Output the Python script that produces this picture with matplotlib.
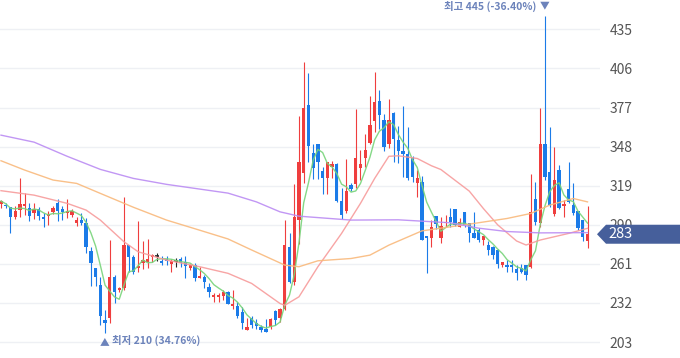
import matplotlib
matplotlib.use("Agg")
import matplotlib.pyplot as plt
from matplotlib.patches import Polygon
import numpy as np
import pandas as pd

plt.rcParams['font.family'] = ['Noto Sans CJK KR', 'DejaVu Sans']

# daily candles (oldest -> newest)
opens = [305.4, 304.8, 303.3, 295.9, 300.9, 303.8, 302.6, 298.4, 301.4, 295.9,
         296.4, 299.2, 305.8, 301.4, 298.9, 297.4, 291.0, 293.5, 291.5, 270.7,
         257.6, 245.2, 219.3, 220.7, 251.1, 241.5, 242.8, 274.9, 266.3, 257.6,
         261.8, 262.6, 265.8, 266.5, 263.3, 265.0, 260.8, 263.3, 265.0, 262.6,
         257.6, 260.1, 250.6, 251.4, 243.5, 236.6, 236.6, 236.9, 239.8, 229.6,
         229.6, 225.5, 212.3, 220.5, 217.3, 214.3, 212.4, 214.3, 225.9, 220.5,
         227.9, 273.6, 247.7, 293.5, 328.3, 378.7, 343.6, 349.6, 329.8, 324.9,
         333.0, 334.8, 307.6, 300.1, 319.5, 320.0, 332.3, 339.7, 351.0, 367.0,
         382.0, 367.7, 349.9, 373.2, 353.2, 344.8, 342.4, 339.2, 320.7, 321.9,
         281.6, 279.9, 296.4, 280.0, 291.0, 295.9, 301.4, 288.6, 299.6, 291.0,
         283.6, 286.1, 278.7, 274.9, 273.6, 271.2, 260.1, 260.1, 260.5, 256.9,
         257.6, 260.1, 258.8, 308.8, 291.0, 350.3, 329.3, 297.7, 330.6, 304.1,
         316.2, 304.6, 300.4, 293.5, 278.1]
highs = [308.4, 305.8, 303.5, 303.8, 325.0, 313.7, 305.8, 305.8, 303.5, 298.4,
         300.1, 303.8, 309.0, 304.3, 309.0, 301.4, 295.9, 298.9, 294.7, 273.6,
         258.0, 251.4, 226.7, 278.7, 252.8, 243.5, 310.3, 275.0, 267.3, 292.9,
         278.2, 279.2, 268.7, 268.9, 266.7, 266.7, 265.0, 265.6, 265.9, 266.7,
         261.0, 261.5, 258.4, 252.8, 246.5, 239.5, 239.5, 242.0, 240.9, 242.0,
         232.8, 228.8, 220.5, 222.0, 219.8, 215.5, 219.8, 220.5, 226.7, 228.0,
         293.5, 283.6, 320.5, 370.6, 411.0, 402.3, 350.3, 350.3, 333.0, 336.5,
         337.1, 335.5, 317.0, 338.7, 321.0, 375.6, 345.4, 357.7, 385.7, 403.0,
         390.0, 372.0, 383.2, 373.5, 363.3, 378.0, 362.3, 341.0, 330.6, 326.0,
         282.0, 293.5, 296.5, 295.9, 297.2, 302.2, 302.0, 294.7, 299.6, 291.0,
         299.6, 287.4, 281.6, 277.8, 274.0, 272.0, 262.5, 263.8, 263.8, 260.1,
         261.0, 260.1, 327.6, 321.9, 376.5, 445.0, 362.7, 347.4, 334.3, 308.4,
         336.7, 320.7, 300.4, 293.5, 304.1]
lows = [302.2, 302.2, 284.0, 294.0, 295.5, 297.2, 293.0, 294.0, 293.5, 288.0,
        289.7, 297.9, 293.0, 293.5, 295.2, 295.5, 289.0, 289.5, 269.2, 244.5,
        244.5, 215.5, 210.0, 216.8, 232.3, 239.9, 241.5, 255.1, 253.5, 255.1,
        257.0, 257.6, 262.6, 263.0, 260.3, 260.0, 255.1, 259.0, 259.0, 250.2,
        256.8, 248.5, 250.2, 242.8, 236.6, 232.8, 232.8, 234.1, 230.9, 227.9,
        220.5, 213.0, 211.9, 213.6, 213.0, 210.5, 210.5, 213.0, 216.0, 218.0,
        226.7, 246.5, 245.2, 276.0, 320.7, 336.7, 324.0, 324.0, 312.5, 312.5,
        324.9, 307.0, 294.2, 298.4, 315.3, 317.5, 323.2, 333.0, 350.3, 359.0,
        361.0, 345.0, 346.9, 336.3, 335.6, 325.5, 323.2, 321.8, 310.3, 278.7,
        253.9, 273.6, 287.0, 276.6, 288.0, 288.6, 289.0, 288.6, 288.0, 277.4,
        279.9, 277.0, 275.0, 267.5, 265.0, 258.0, 258.8, 255.1, 255.1, 249.0,
        254.0, 249.0, 257.6, 289.7, 288.6, 323.2, 303.3, 296.4, 301.4, 295.9,
        306.3, 297.2, 286.5, 278.0, 272.5]
closes = [307.6, 303.6, 295.9, 300.1, 305.1, 305.3, 296.7, 301.4, 296.4, 294.4,
          297.7, 302.2, 300.1, 299.2, 300.1, 300.4, 293.5, 291.0, 273.6, 261.8,
          251.4, 222.2, 217.3, 251.1, 240.5, 242.8, 274.9, 266.3, 255.1, 259.3,
          263.8, 264.8, 267.5, 266.5, 261.8, 263.1, 263.3, 263.3, 261.8, 259.3,
          260.1, 250.2, 251.9, 247.7, 240.3, 237.8, 237.8, 240.2, 231.6, 231.1,
          222.2, 216.8, 214.3, 215.5, 214.9, 211.9, 210.5, 219.8, 219.3, 227.9,
          274.9, 247.7, 295.9, 336.7, 376.5, 348.4, 331.8, 336.3, 324.9, 336.3,
          334.8, 307.6, 297.2, 315.0, 316.5, 339.2, 335.3, 345.4, 364.3, 381.0,
          371.1, 347.9, 367.7, 353.9, 344.8, 342.4, 325.0, 325.5, 324.9, 278.7,
          279.9, 288.0, 290.5, 289.0, 292.2, 292.2, 289.7, 292.2, 289.7, 283.6,
          279.9, 278.7, 281.6, 271.3, 267.6, 260.8, 262.1, 258.8, 258.5, 254.0,
          255.1, 252.7, 299.6, 292.2, 350.3, 325.5, 304.6, 323.2, 302.2, 305.3,
          306.9, 298.4, 287.3, 280.6, 283.0]

# longer moving averages (candle index, price)
ma20_idx = [0, 7, 14, 18, 21, 26, 29, 35, 42, 48, 53, 59, 60, 63, 67, 72, 76,
            79, 82, 84, 88, 91, 93, 96, 99, 102, 105, 109, 111, 114, 120, 124]
ma20_val = [315.3, 312.0, 305.9, 300.9, 293.5, 277.4, 270.0, 263.8, 258.9,
            254.0, 246.5, 231.6, 230.3, 236.6, 258.9, 283.6, 305.9, 324.4,
            340.8, 341.2, 339.2, 333.8, 331.0, 323.0, 315.0, 302.0, 290.0,
            278.0, 275.0, 278.7, 283.6, 287.4]
ma60_idx = [0, 5, 11, 16, 21, 28, 35, 42, 48, 53, 60, 63, 67, 74, 78, 82, 89,
            95, 100, 107, 112, 116, 121, 124]
ma60_val = [337.5, 330.6, 323.2, 320.7, 313.3, 303.0, 293.5, 286.0, 279.5,
            271.3, 260.1, 258.9, 263.3, 265.0, 267.5, 274.9, 285.5, 288.5,
            291.0, 294.7, 298.4, 304.6, 309.5, 307.0]
ma120_idx = [0, 7, 14, 21, 28, 35, 42, 48, 54, 59, 63, 74, 84, 95, 101, 107,
             114, 124]
ma120_val = [356.5, 351.3, 340.8, 331.1, 324.4, 320.0, 316.5, 313.5, 307.0,
             299.6, 296.4, 293.5, 293.7, 291.5, 287.5, 285.0, 284.0, 284.2]

yticks = [203, 232, 261, 290, 319, 348, 377, 406, 435]
last_price = 283

RED = '#ef3e3e'
BLUE = '#1b7be8'

fig = plt.figure(figsize=(6.8, 3.58), dpi=100)
ax = fig.add_axes([0, 0, 600 / 680, 1])

df = pd.DataFrame({'o': opens, 'h': highs, 'l': lows, 'c': closes})
x = np.arange(len(df))

for i, r in df.iterrows():
    if abs(r.c - r.o) < 0.05:
        col = '#222222'
    elif r.c > r.o:
        col = RED
    else:
        col = BLUE
    ax.vlines(i, r.l, r.h, color=col, lw=0.8, zorder=3)
    lo, hi = min(r.o, r.c), max(r.o, r.c)
    if hi - lo < 0.6:
        ax.hlines((lo + hi) / 2, i - 0.35, i + 0.35, color=col, lw=1.2, zorder=3)
    else:
        ax.bar(i, hi - lo, bottom=lo, width=0.7, color=col, lw=0, zorder=3)

ma5 = df['c'].rolling(5, min_periods=1).mean()
ax.plot(x, ma5, color='#78d47a', lw=1.0, alpha=0.9, zorder=4)
ax.plot(ma20_idx, ma20_val, color='#f79b9b', lw=1.0, alpha=0.9, zorder=4)
ax.plot(ma60_idx, ma60_val, color='#f9b97c', lw=1.0, alpha=0.9, zorder=4)
ax.plot(ma120_idx, ma120_val, color='#bb8cf3', lw=1.0, alpha=0.9, zorder=4)

ax.set_xlim(-0.21, 126.64)
ax.set_ylim(191.2, 456.74)
ax.set_yticks(yticks)
ax.yaxis.tick_right()
ax.tick_params(axis='y', length=0, pad=7, labelsize=10, labelcolor='#555555')
ax.set_xticks([])
ax.grid(axis='y', color='#eef0f4', lw=1)
ax.set_axisbelow(True)
for s in ax.spines.values():
    s.set_visible(False)

# high / low markers
hi_i = int(np.argmax(highs))
lo_i = int(np.argmin(lows))
note = '#6c83bb'
ax.annotate('▼', (hi_i, max(highs)), xytext=(0, 4), textcoords='offset points',
            ha='center', va='bottom', fontsize=7, color=note)
ax.annotate(f'최고 {max(highs):.0f} (-36.40%)', (hi_i, max(highs)),
            xytext=(-6, 2.5), textcoords='offset points', fontweight='bold',
            ha='right', va='bottom', fontsize=7.5, color=note)
ax.annotate('▲', (lo_i, min(lows)), xytext=(0, -3), textcoords='offset points',
            ha='center', va='top', fontsize=7, color=note)
ax.annotate(f'최저 {min(lows):.0f} (34.76%)', (lo_i, min(lows)),
            xytext=(5, -1.5), textcoords='offset points', fontweight='bold',
            ha='left', va='top', fontsize=7.5, color=note)

# current price tag on the right
_, yp = fig.transFigure.inverted().transform(ax.transData.transform((0, last_price)))
h = 9.5 / 358
tag = Polygon([(597 / 680, yp), (606 / 680, yp + h), (1, yp + h),
               (1, yp - h), (606 / 680, yp - h)], closed=True,
              facecolor='#465f9b', edgecolor='none', transform=fig.transFigure)
fig.patches.append(tag)
fig.text(608 / 680, yp, f'{last_price}', color='white', fontsize=10.5,
         va='center', ha='left')

fig.savefig('out.png', dpi=100)
